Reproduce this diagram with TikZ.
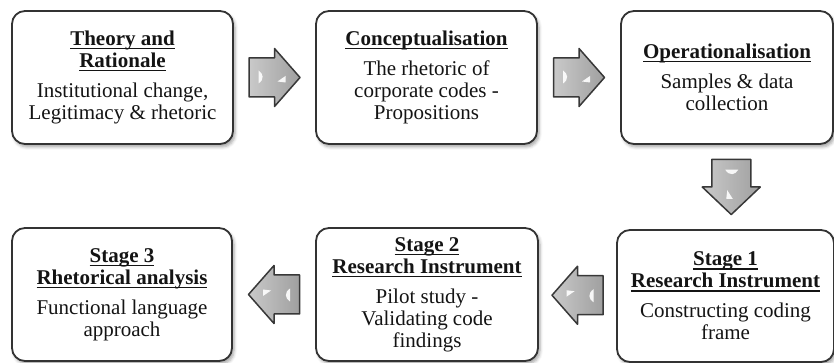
\documentclass[tikz,border=0pt]{standalone}
\usepackage{fontspec}
\setmainfont{Liberation Serif}
\usetikzlibrary{calc,shadows.blur}

% bold heading with a fixed-offset underline
\newlength\hdw
\newcommand\boxhead[1]{\settowidth\hdw{\bfseries #1}{\bfseries #1}\llap{\rule[-3.8pt]{\hdw}{1.3pt}}}

\tikzset{
  stagebox/.style={draw=black!80, line width=1.8pt, rounded corners=13pt, fill=white,
    align=center, inner sep=0pt, text=black!92,
    font=\fontsize{21}{22}\selectfont,
    blur shadow={shadow xshift=2pt, shadow yshift=-3pt, shadow blur radius=3pt, shadow opacity=35}},
  % grey bevelled block arrow, pointing along +x, centred on the origin
  blockarrow/.pic={
    \draw[line width=1.5pt, draw=black!78, line join=round, left color=gray!42, right color=gray!75]
      (-25.5,-19.5) -- (0,-19.5) -- (0,-29) -- (25.5,0) -- (0,29) -- (0,19.5) -- (-25.5,19.5) -- cycle;
    \fill[white, opacity=0.9] (-16,7) .. controls (-11,4) and (-10,-2) .. (-16,-6) -- cycle;
    \fill[white, opacity=0.9] (3,-4) -- (11,1.5) -- (11,-5) -- cycle;
  }
}

\begin{document}
\begin{tikzpicture}[x=1pt, y=1pt]
\useasboundingbox (0,0) rectangle (834,363);

% top row
\node[stagebox, minimum width=221pt, minimum height=133pt] (theory) at (122.5,285.5)
  {\boxhead{Theory and}\\ \boxhead{Rationale}\\[8pt] Institutional change,\\ Legitimacy \& rhetoric};
\node[stagebox, minimum width=221pt, minimum height=133pt] (concept) at (426.5,285.5)
  {\boxhead{Conceptualisation}\\[8pt] The rhetoric of\\ corporate codes -\\ Propositions};
\node[stagebox, minimum width=212pt, minimum height=133pt] (oper) at (727,285.5)
  {\boxhead{Operationalisation}\\[8pt] Samples \& data\\ collection};

% bottom row
\node[stagebox, minimum width=220pt, minimum height=133pt] (stage3) at (122,68.5)
  {\boxhead{Stage 3}\\ \boxhead{Rhetorical analysis}\\[8pt] Functional language\\ approach};
\node[stagebox, minimum width=222pt, minimum height=133pt] (stage2) at (427,68.5)
  {\boxhead{Stage 2}\\ \boxhead{Research Instrument}\\[8pt] Pilot study -\\ Validating code\\ findings};
\node[stagebox, minimum width=217pt, minimum height=132pt] (stage1) at (725.5,67)
  {\boxhead{Stage 1}\\ \boxhead{Research Instrument}\\[8pt] Constructing coding\\ frame};

% block arrows between the stages
\coordinate (tc) at ($(theory.east)!0.5!(concept.west)$);
\coordinate (co) at ($(concept.east)!0.5!(oper.west)$);
\coordinate (os) at ($($(oper.south)!0.5!(stage1.north)$)+(5,0)$);
\coordinate (s12) at ($(stage1.west)!0.5!(stage2.east)$);
\coordinate (s23) at ($(stage2.west)!0.5!(stage3.east)$);

\pic at (tc) {blockarrow};
\pic at (co) {blockarrow};
\pic[rotate=-90, xscale=1.08] at (os) {blockarrow};
\pic[rotate=180] at (s12) {blockarrow};
\pic[rotate=180] at (s23) {blockarrow};
\end{tikzpicture}
\end{document}
